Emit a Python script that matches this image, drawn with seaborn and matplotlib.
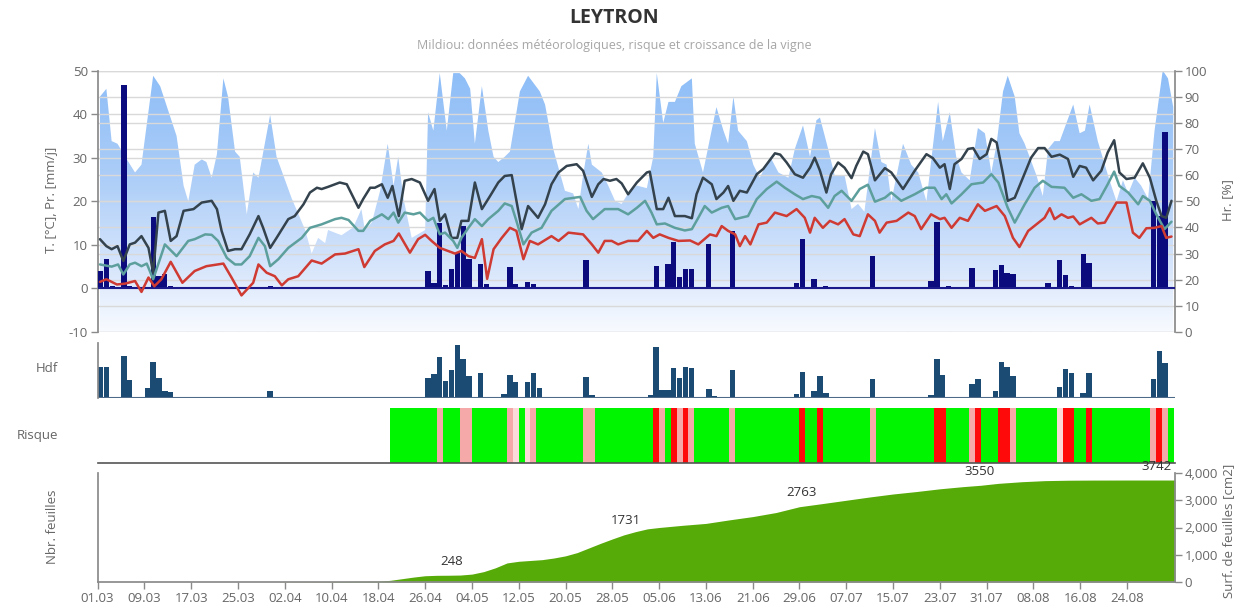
import matplotlib
matplotlib.use("Agg")
import matplotlib.pyplot as plt
from matplotlib.colors import LinearSegmentedColormap
import seaborn as sns
import numpy as np

# x positions are days counted from 01.03 (day 0 = left edge of the axis)
x_tick_labels = ["01.03", "09.03", "17.03", "25.03", "02.04", "10.04", "18.04", "26.04",
                 "04.05", "12.05", "20.05", "28.05", "05.06", "13.06", "21.06", "29.06",
                 "07.07", "15.07", "23.07", "31.07", "08.08", "16.08", "24.08"]
x_max = 184.2

# relative humidity [%] (day, value)
hum_points = [
    (0.4, 90), (1.5, 93), (2.4, 73), (3.4, 72), (5.0, 66), (6.4, 61), (7.5, 64), (9.5, 98),
    (10.7, 94), (13.5, 75), (14.7, 56), (15.5, 50), (16.6, 64), (17.8, 66), (18.6, 65),
    (19.5, 59), (20.4, 68), (21.5, 97), (22.3, 90), (23.5, 69), (24.3, 67), (25.5, 45),
    (26.6, 61), (27.5, 59), (29.5, 83), (30.6, 67), (33.2, 51), (35.5, 39), (36.6, 30),
    (37.7, 36), (38.9, 34), (39.4, 39), (41.7, 37), (43.7, 40), (45.1, 47), (45.7, 39),
    (46.9, 42), (48.3, 54), (49.6, 72), (50.6, 56), (51.4, 67), (52.3, 51), (53.7, 36),
    (56.0, 39), (56.5, 84), (57.4, 77), (58.5, 99), (59.7, 77), (60.8, 99), (61.9, 99),
    (62.8, 97), (63.7, 93), (64.5, 72), (65.7, 94), (66.8, 77), (67.7, 67), (68.5, 65),
    (69.6, 67), (70.5, 69), (72.2, 92), (73.6, 98), (75.6, 92), (76.5, 87), (77.9, 70),
    (79.9, 54), (81.3, 53), (82.2, 47), (83.0, 60), (83.9, 72), (84.5, 64), (86.2, 61),
    (87.3, 56), (88.5, 50), (89.6, 49), (90.7, 53), (92.2, 56), (93.9, 55), (95.0, 67),
    (95.6, 99), (96.7, 80), (97.6, 88), (98.7, 88), (99.8, 94), (101.6, 97), (102.1, 72),
    (103.5, 61), (105.8, 86), (107.0, 77), (107.8, 72), (108.7, 90), (109.5, 77),
    (111.0, 73), (112.1, 64), (113.2, 59), (115.0, 67), (116.4, 61), (118.1, 59),
    (119.2, 70), (120.6, 79), (121.8, 67), (122.9, 81), (123.5, 82), (124.9, 70),
    (126.0, 60), (127.7, 60), (128.9, 47), (130.0, 49), (131.1, 46), (132.9, 78),
    (134.0, 65), (134.9, 64), (135.7, 50), (137.7, 72), (139.1, 64), (140.3, 61),
    (141.7, 50), (143.7, 88), (144.5, 73), (145.7, 84), (146.8, 67), (147.7, 61),
    (149.1, 58), (150.5, 78), (151.7, 76), (152.8, 61), (153.7, 72), (154.8, 92),
    (155.6, 98), (156.8, 90), (157.6, 76), (158.5, 72), (160.5, 60), (161.6, 52),
    (162.5, 70), (163.6, 73), (164.5, 73), (166.8, 87), (167.9, 76), (168.8, 77),
    (169.6, 87), (171.0, 73), (172.2, 64), (173.0, 58), (174.2, 50), (175.3, 58),
    (176.2, 53), (177.3, 59), (178.4, 56), (179.6, 51), (180.7, 77), (182.1, 100),
    (183.0, 97), (183.9, 86),
]

# daily max / mean / min temperature [°C] (day, value)
tmax_points = [
    (0.4, 11.3), (1.5, 9.7), (2.4, 9.0), (3.4, 9.7), (4.4, 6.3), (5.5, 10.1), (6.4, 10.5),
    (7.5, 12.0), (8.7, 9.3), (9.5, 3.6), (10.4, 17.4), (11.5, 17.8), (12.5, 10.9),
    (13.5, 12.0), (14.7, 17.8), (16.4, 18.2), (17.8, 19.7), (19.5, 20.1), (20.4, 18.2),
    (21.2, 13.2), (22.3, 8.6), (23.5, 9.0), (24.6, 9.0), (26.0, 12.4), (27.5, 16.6),
    (28.3, 13.9), (29.5, 9.3), (30.6, 11.6), (32.6, 15.9), (33.7, 16.6), (35.2, 19.3),
    (36.3, 22.0), (37.5, 23.1), (38.3, 22.8), (39.4, 23.3), (41.4, 24.3), (42.6, 23.9),
    (44.6, 18.5), (45.4, 20.5), (46.6, 23.1), (47.4, 23.1), (48.6, 23.9), (49.6, 20.8),
    (50.4, 23.5), (51.5, 16.6), (52.5, 24.7), (53.7, 25.1), (55.1, 24.3), (56.5, 20.1),
    (57.6, 22.8), (58.5, 15.5), (59.4, 17.0), (60.5, 11.6), (61.5, 11.6), (62.2, 15.5),
    (63.4, 15.5), (64.5, 24.3), (65.7, 18.2), (67.1, 21.2), (68.5, 24.3), (69.6, 25.8),
    (70.8, 26.0), (71.6, 20.1), (72.5, 13.6), (73.6, 18.9), (75.3, 16.2), (76.5, 19.3),
    (77.6, 23.9), (78.8, 26.6), (80.2, 28.1), (81.9, 28.5), (83.0, 27.0), (84.5, 21.0),
    (85.6, 23.9), (86.5, 25.1), (87.6, 24.7), (88.7, 25.1), (89.6, 24.1), (90.7, 21.6),
    (92.2, 24.3), (93.9, 26.6), (94.4, 26.8), (95.6, 18.2), (96.7, 18.2), (97.6, 20.8),
    (98.7, 16.6), (100.4, 16.6), (101.6, 16.1), (102.4, 21.6), (103.5, 25.4), (105.0, 23.9),
    (105.8, 20.5), (107.0, 22.0), (107.8, 23.5), (108.7, 20.1), (109.8, 22.4), (111.0, 22.0),
    (112.7, 26.2), (113.8, 27.4), (115.8, 31.0), (116.7, 30.7), (117.8, 28.9), (119.2, 26.2),
    (120.6, 25.4), (121.8, 27.7), (122.6, 30.0), (123.5, 27.0), (124.6, 22.0), (125.4, 26.2),
    (126.6, 28.9), (127.7, 27.7), (128.9, 25.3), (129.7, 28.1), (130.9, 31.4), (131.7, 30.8),
    (132.9, 24.8), (134.6, 27.6), (135.7, 26.6), (137.7, 22.8), (139.7, 27.0), (141.7, 30.8),
    (142.8, 29.9), (144.0, 27.7), (144.8, 28.5), (145.7, 22.8), (146.5, 28.5), (147.7, 29.7),
    (148.8, 32.0), (149.7, 32.2), (150.8, 29.7), (152.0, 30.8), (152.8, 34.3), (153.7, 33.5),
    (154.8, 26.2), (155.6, 20.1), (156.8, 20.8), (158.2, 25.4), (159.6, 30.0), (160.8, 32.2),
    (161.9, 32.2), (163.1, 30.2), (164.5, 30.7), (165.9, 29.7), (166.8, 25.6), (167.9, 28.1),
    (169.0, 27.7), (170.2, 24.8), (171.6, 27.0), (172.7, 31.2), (173.8, 34.0), (174.7, 26.6),
    (175.9, 25.1), (177.3, 25.4), (178.7, 28.7), (179.9, 25.4), (181.0, 20.1), (181.9, 16.6),
    (182.7, 16.2), (183.6, 20.1),
]
tmean_points = [
    (0.4, 5.5), (2.4, 5.0), (3.5, 5.5), (4.4, 3.2), (5.5, 5.5), (6.4, 5.9), (7.5, 5.1),
    (8.4, 5.7), (9.5, 2.1), (11.5, 10.1), (13.5, 7.4), (15.5, 10.9), (16.6, 11.3),
    (18.4, 12.4), (19.5, 12.3), (20.6, 10.9), (22.1, 7.0), (23.5, 5.5), (24.6, 5.5),
    (26.0, 7.4), (27.5, 11.6), (28.6, 9.7), (29.5, 5.1), (30.9, 6.7), (32.6, 9.3),
    (34.9, 11.6), (36.3, 13.9), (38.3, 14.7), (40.6, 15.9), (41.7, 16.2), (42.9, 15.7),
    (44.6, 13.2), (45.4, 13.2), (46.6, 15.5), (48.6, 17.0), (49.7, 15.9), (50.6, 17.4),
    (51.4, 15.1), (52.5, 17.4), (54.0, 17.0), (55.1, 17.4), (56.5, 15.5), (57.4, 16.2),
    (58.5, 12.4), (59.4, 12.8), (60.8, 10.9), (61.5, 9.3), (62.2, 11.6), (63.4, 13.9),
    (64.5, 15.9), (65.7, 14.3), (66.8, 15.9), (68.5, 17.8), (69.6, 19.5), (70.8, 18.9),
    (71.6, 15.5), (72.8, 10.1), (74.2, 12.8), (75.9, 13.9), (77.6, 17.8), (79.9, 20.5),
    (82.5, 21.0), (83.6, 17.8), (84.7, 15.9), (86.7, 18.2), (89.0, 18.2), (90.7, 17.0),
    (92.2, 18.5), (93.6, 20.1), (94.7, 17.4), (95.6, 14.7), (97.0, 14.9), (98.7, 13.9),
    (100.4, 13.3), (101.6, 13.6), (102.7, 16.2), (103.8, 18.9), (105.0, 17.4), (106.7, 18.5),
    (107.8, 18.9), (109.0, 15.9), (111.2, 16.6), (112.7, 20.5), (114.4, 22.8), (116.1, 24.5),
    (117.5, 23.1), (119.2, 21.6), (120.6, 20.5), (122.1, 21.2), (123.5, 20.8), (124.9, 18.5),
    (126.0, 21.2), (127.2, 22.4), (128.9, 20.1), (130.3, 22.8), (131.7, 23.8), (132.9, 19.9),
    (134.6, 20.8), (135.7, 22.0), (137.4, 20.1), (139.7, 21.6), (141.7, 23.1), (143.1, 23.1),
    (144.3, 20.5), (145.1, 21.6), (146.0, 19.5), (147.7, 21.6), (149.4, 23.9), (151.4, 24.3),
    (152.8, 26.2), (154.0, 24.3), (155.6, 18.5), (156.8, 15.1), (158.5, 19.3), (160.2, 23.1),
    (161.6, 24.7), (163.1, 23.3), (165.3, 23.1), (166.8, 20.8), (168.2, 21.6), (169.9, 20.1),
    (171.3, 20.5), (172.7, 23.9), (173.8, 26.8), (174.7, 23.5), (176.2, 22.0), (177.9, 19.3),
    (178.7, 21.2), (179.9, 20.1), (181.0, 17.0), (182.4, 13.6), (183.6, 15.3),
]
tmin_points = [
    (0.4, 1.5), (1.5, 2.1), (3.3, 0.9), (4.7, 1.1), (6.4, 1.7), (7.5, -0.8), (8.7, 2.5),
    (9.7, 0.5), (10.9, 2.1), (12.5, 6.1), (14.5, 1.3), (16.6, 4.0), (18.6, 5.1), (21.5, 5.7),
    (22.9, 2.5), (24.6, -1.6), (26.6, 1.3), (27.5, 5.5), (28.9, 3.6), (30.3, 2.8), (31.5, 0.7),
    (32.6, 2.1), (34.3, 2.8), (36.6, 6.4), (38.3, 5.7), (40.6, 7.8), (42.3, 8.0), (44.6, 9.0),
    (45.6, 4.9), (47.4, 8.6), (49.1, 10.1), (50.6, 10.9), (51.5, 12.6), (53.4, 8.2),
    (54.8, 11.3), (56.0, 12.3), (57.1, 10.9), (58.5, 9.3), (59.9, 8.6), (61.1, 8.0),
    (62.2, 8.6), (63.4, 7.4), (64.5, 7.0), (65.7, 11.3), (66.6, 2.2), (67.7, 9.0),
    (69.1, 11.6), (70.5, 13.9), (71.6, 13.2), (72.8, 6.7), (73.9, 10.9), (75.3, 10.1),
    (77.6, 12.0), (78.8, 10.9), (80.5, 12.8), (83.0, 12.4), (84.5, 10.1), (85.6, 8.2),
    (86.7, 10.9), (87.9, 10.9), (89.0, 10.1), (90.7, 10.9), (92.4, 10.9), (93.9, 13.2),
    (95.0, 11.6), (96.1, 12.4), (97.6, 11.6), (99.3, 10.9), (101.3, 11.0), (102.7, 10.1),
    (104.7, 12.4), (105.8, 12.0), (106.7, 14.3), (107.8, 13.2), (109.0, 12.4), (109.8, 9.7),
    (110.7, 12.0), (111.6, 10.1), (113.0, 14.7), (114.4, 15.1), (115.8, 17.4), (117.8, 16.6),
    (119.5, 18.2), (120.9, 16.2), (121.8, 12.8), (122.6, 16.2), (124.0, 13.9), (125.2, 15.5),
    (126.6, 14.7), (127.7, 15.9), (129.2, 12.4), (130.3, 12.0), (131.7, 17.0), (132.9, 15.5),
    (133.7, 12.8), (134.9, 15.1), (136.6, 15.5), (138.6, 17.4), (139.7, 16.6), (140.8, 13.6),
    (142.5, 17.0), (144.0, 15.9), (144.8, 16.2), (146.0, 13.9), (147.4, 16.2), (148.8, 15.5),
    (150.5, 19.3), (151.7, 17.8), (153.7, 18.9), (155.1, 16.6), (156.5, 11.6), (157.6, 9.5),
    (159.1, 13.2), (160.5, 14.7), (161.9, 16.2), (162.8, 18.4), (163.6, 15.9), (164.8, 17.0),
    (165.9, 16.2), (166.8, 16.5), (167.9, 14.7), (169.9, 16.2), (171.0, 14.9), (172.2, 15.1),
    (174.2, 19.7), (175.9, 19.7), (177.0, 12.8), (178.1, 11.6), (179.3, 13.8), (180.7, 13.9),
    (181.9, 14.3), (182.7, 11.6), (183.6, 11.9),
]

# daily precipitation [mm/j]
rain_days = [0, 1, 2, 4, 5, 9, 10, 11, 12, 29, 56, 57, 58, 59, 60, 61, 62, 63, 65, 66, 69, 70,
             71, 73, 74, 75, 83, 94, 95, 97, 98, 99, 100, 101, 104, 107, 108, 119, 120, 122,
             124, 132, 142, 143, 145, 149, 153, 154, 155, 156, 162, 164, 165, 166, 168, 169,
             180, 181, 182]
rain_mm = [4.0, 6.8, 0.5, 46.7, 0.5, 16.4, 2.8, 3.2, 0.5, 0.5, 4.0, 1.3, 15.1, 0.8, 4.5, 8.2,
           14.3, 6.8, 5.7, 1.1, 0.4, 4.9, 0.9, 1.5, 1.1, 0.2, 6.5, 0.3, 5.1, 5.5, 10.7, 2.7,
           4.5, 4.5, 10.3, 0.2, 13.2, 1.3, 11.3, 2.2, 0.5, 7.4, 1.8, 15.3, 0.5, 4.6, 4.2, 5.3,
           3.5, 3.4, 1.3, 6.6, 3.1, 0.5, 7.8, 5.9, 20.0, 16.6, 36.0]

# leaf wetness (Hdf), relative height
hdf_days = [0, 1, 4, 5, 8, 9, 10, 11, 12, 29, 56, 57, 58, 59, 60, 61, 62, 63, 65, 69, 70, 71,
            73, 74, 75, 79, 83, 84, 94, 95, 96, 97, 98, 99, 100, 101, 104, 105, 108, 119, 120,
            122, 123, 124, 132, 142, 143, 144, 149, 150, 153, 154, 155, 156, 164, 165, 166,
            168, 169, 180, 181, 182]
hdf_vals = [0.56, 0.56, 0.77, 0.33, 0.18, 0.66, 0.36, 0.12, 0.11, 0.12, 0.36, 0.44, 0.75, 0.31,
            0.51, 0.96, 0.71, 0.40, 0.45, 0.08, 0.42, 0.29, 0.29, 0.45, 0.19, 0.02, 0.39, 0.05,
            0.05, 0.93, 0.14, 0.14, 0.54, 0.36, 0.56, 0.54, 0.16, 0.03, 0.51, 0.08, 0.48, 0.13,
            0.40, 0.09, 0.34, 0.05, 0.71, 0.42, 0.26, 0.34, 0.13, 0.66, 0.56, 0.40, 0.20, 0.53,
            0.46, 0.10, 0.45, 0.34, 0.85, 0.63]

# daily risk from day 50 (20.04): G none, L very low, P low, R high
risk_start = 50
risk_codes = ("GGGGGGGGPGGGPPGGGGGGPLGLPGGGGGGGGPPGGGGGGGGGG"
              "RPGRPRPGGGGGGPGGGGGGGGGGGRGGRGGGGGGGGPGGGGGGGGGG"
              "RRGGGGPRGGGRRPGGGGGGGLRRGGRGGGGGGGGGGPRPG")
risk_colors = {"G": "#00f500", "L": "#fcdada", "P": "#f5a9a9", "R": "#ff0a0a"}

# leaf surface [cm2]
leaf_days = [31, 35, 40, 45, 48, 50, 52, 54, 56, 58, 60, 62, 64, 66, 68, 70, 72, 74, 76, 78, 80,
             82, 84, 86, 88, 90, 92, 94, 96, 100, 104, 108, 112, 116, 120, 124, 128, 132, 136,
             140, 144, 148, 151, 154, 158, 162, 166, 170, 176, 184.2]
leaf_area = [5, 10, 15, 25, 30, 60, 120, 180, 230, 245, 248, 255, 290, 380, 520, 700, 760, 790,
             820, 880, 960, 1080, 1250, 1420, 1580, 1731, 1850, 1950, 2000, 2080, 2150, 2280,
             2400, 2550, 2763, 2880, 3000, 3120, 3230, 3320, 3420, 3500, 3550, 3620, 3680, 3720,
             3735, 3740, 3742, 3742]
leaf_label_days = [60.6, 90.4, 120.3, 150.8, 181.0]
leaf_label_vals = [248, 1731, 2763, 3550, 3742]

sns.set_theme(style="white")
plt.rcParams["font.family"] = ["Open Sans", "DejaVu Sans"]
plt.rcParams["axes.unicode_minus"] = False

GRAY_TXT = "#666666"
AX_COL = "#8a8a8a"
GRID_COL = "#d9d9d9"

fig = plt.figure(figsize=(12.35, 6.03), dpi=100)
W, H = 1235, 603


def box(x0, y0, x1, y1):
    return [x0 / W, 1 - y1 / H, (x1 - x0) / W, (y1 - y0) / H]


# ---- main panel: humidity (back) + temperature / rain (front)
ax_h = fig.add_axes(box(97.6, 70.5, 1175, 332))
ax_t = ax_h.twinx()

hx, hy = zip(*hum_points)
cmap = LinearSegmentedColormap.from_list(
    "hr", [(0, "#f8fbff"), (0.2, "#dde9fc"), (0.6, "#abcdf8"), (1.0, "#8dbdf7")])
poly = ax_h.fill_between(hx, 0, hy, color="none", lw=0)
img = ax_h.imshow(np.linspace(0, 1, 256).reshape(-1, 1), extent=[0, x_max, 0, 100],
                  origin="lower", cmap=cmap, aspect="auto", zorder=1)
img.set_clip_path(poly.get_paths()[0], transform=ax_h.transData)
ax_h.set_xlim(0, x_max)
ax_h.set_ylim(0, 100)
ax_h.set_yticks(range(0, 101, 10))
ax_h.set_axisbelow(False)
ax_h.yaxis.grid(True, color=GRID_COL, lw=1)
ax_h.xaxis.grid(False)

ax_t.set_ylim(-10, 50)
ax_t.set_yticks(range(-10, 51, 10))
ax_t.yaxis.grid(True, color=GRID_COL, lw=1)
ax_t.bar(np.array(rain_days) + 0.5, rain_mm, width=0.9, color="#0b0b7d", lw=0, zorder=3)
ax_t.axhline(0, color="#1a1a8a", lw=1.5, zorder=3)
for pts, col in [(tmax_points, "#33424d"), (tmean_points, "#5d9f9c"), (tmin_points, "#cf3a32")]:
    px, py = zip(*pts)
    sns.lineplot(x=list(px), y=list(py), ax=ax_t, color=col, lw=1.8,
                 estimator=None, sort=False, zorder=4)

# ticks on the proper sides
ax_t.yaxis.tick_left()
ax_h.yaxis.tick_right()
for a in (ax_h, ax_t):
    a.tick_params(axis="y", length=5, width=1, color=AX_COL, labelcolor=GRAY_TXT,
                  labelsize=9.5, pad=2)
    a.set_xticks([])
    for s in a.spines.values():
        s.set_visible(False)
ax_t.tick_params(axis="y", left=True, right=False, labelleft=True, labelright=False)
ax_h.tick_params(axis="y", left=False, right=True, labelleft=False, labelright=True)
ax_t.spines["left"].set_visible(True)
ax_t.spines["right"].set_visible(True)
ax_t.spines["left"].set_color(AX_COL)
ax_t.spines["right"].set_color(AX_COL)
ax_t.set_xlim(0, x_max)

# ---- Hdf panel
ax_d = fig.add_axes(box(97.6, 343, 1175, 398))
ax_d.bar(np.array(hdf_days) + 0.5, hdf_vals, width=0.92, color="#1b4a73", lw=0)
ax_d.axhline(0, color="#4d6b88", lw=1.5)
ax_d.set_xlim(0, x_max)
ax_d.set_ylim(0, 1.0)
ax_d.set_xticks([])
ax_d.set_yticks([])
for k, s in ax_d.spines.items():
    s.set_visible(k == "left")
ax_d.spines["left"].set_color(AX_COL)

# ---- risk panel
ax_r = fig.add_axes(box(97.6, 408, 1175, 463))
r_x = risk_start + np.arange(len(risk_codes)) + 0.5
ax_r.bar(r_x, 1, width=1.0, color=[risk_colors[c] for c in risk_codes], lw=0)
ax_r.set_xlim(0, x_max)
ax_r.set_ylim(0, 1)
ax_r.set_xticks([])
ax_r.set_yticks([])
for k, s in ax_r.spines.items():
    s.set_visible(k == "bottom")
ax_r.spines["bottom"].set_color("#555555")
ax_r.spines["bottom"].set_linewidth(1.2)

# ---- leaf panel
ax_l = fig.add_axes(box(97.6, 473, 1175, 582))
ax_l.fill_between(leaf_days, 0, leaf_area, color="#56ab08", lw=0)
for d, v in zip(leaf_label_days, leaf_label_vals):
    ax_l.annotate(str(v), (d, v), xytext=(0, 10), textcoords="offset points",
                  ha="center", va="center", fontsize=9.5, color="#333333")
ax_l.set_xlim(0, x_max)
ax_l.set_ylim(0, 4000)
ax_l.set_xticks(np.arange(len(x_tick_labels)) * 8)
ax_l.set_xticklabels(x_tick_labels)
ax_l.set_yticks(range(0, 4001, 1000))
ax_l.set_yticklabels([f"{v:,}" for v in range(0, 4001, 1000)])
ax_l.yaxis.tick_right()
ax_l.tick_params(axis="both", length=5, width=1, color=AX_COL, labelcolor=GRAY_TXT,
                 labelsize=9.5, pad=2)
ax_l.tick_params(axis="x", bottom=True)
ax_l.tick_params(axis="y", right=True, left=False)
for k, s in ax_l.spines.items():
    s.set_visible(k != "top")
    s.set_color(AX_COL)

# ---- texts
fig.text(614 / W, 1 - 18 / H, "LEYTRON", ha="center", va="center",
         fontsize=14, fontweight="bold", color="#333333")
fig.text(614 / W, 1 - 46 / H, "Mildiou: données météorologiques, risque et croissance de la vigne",
         ha="center", va="center", fontsize=9, color="#a6a6a6")
fig.text(52 / W, 1 - 200 / H, "T. [°C], Pr. [mm/j]", rotation=90, ha="center", va="center",
         fontsize=9.5, color=GRAY_TXT)
fig.text(1228 / W, 1 - 200 / H, "Hr. [%]", rotation=90, ha="center", va="center",
         fontsize=9.5, color=GRAY_TXT)
fig.text(47 / W, 1 - 368 / H, "Hdf", ha="center", va="center", fontsize=9.5, color=GRAY_TXT)
fig.text(37 / W, 1 - 435 / H, "Risque", ha="center", va="center", fontsize=9.5, color=GRAY_TXT)
fig.text(52 / W, 1 - 527 / H, "Nbr. feuilles", rotation=90, ha="center", va="center",
         fontsize=9.5, color=GRAY_TXT)
fig.text(1229 / W, 1 - 531 / H, "Surf. de feuilles [cm2]", rotation=90, ha="center",
         va="center", fontsize=9.5, color=GRAY_TXT)

fig.savefig("out.png", dpi=100)
